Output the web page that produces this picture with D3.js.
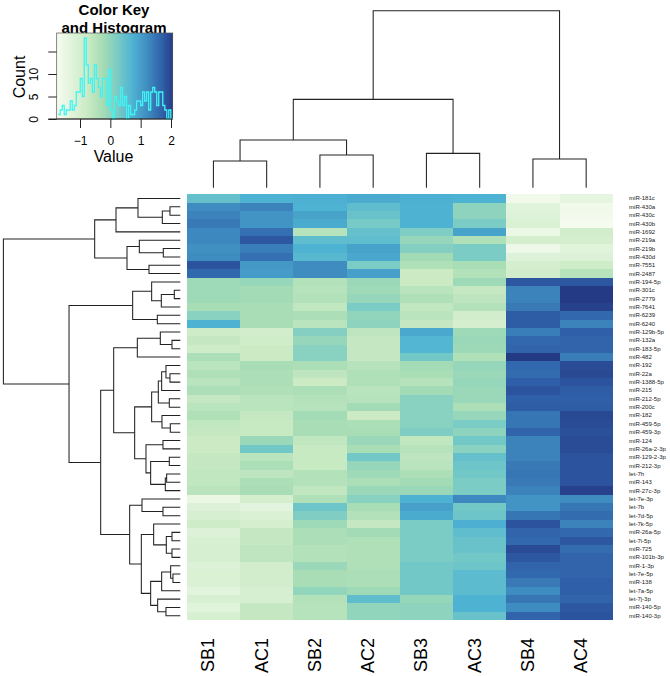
<!DOCTYPE html>
<html><head><meta charset="utf-8">
<script src="https://cdnjs.cloudflare.com/ajax/libs/d3/7.8.5/d3.min.js"></script>
<style>html,body{margin:0;padding:0;background:#fff}svg{display:block}text{font-family:"Liberation Sans",Arial,sans-serif;fill:#000}</style>
</head><body><svg id="c" width="670" height="676"></svg>
<script>
const samples = ["SB1","AC1","SB2","AC2","SB3","AC3","SB4","AC4"];
const rowLabels = ["miR-181c","miR-430a","miR-430c","miR-430b","miR-1692","miR-219a","miR-219b","miR-430d","miR-7551","miR-2487","miR-194-5p","miR-301c","miR-2779","miR-7641","miR-6239","miR-6240","miR-129b-5p","miR-132a","miR-183-5p","miR-482","miR-192","miR-22a","miR-1388-5p","miR-215","miR-212-5p","miR-200c","miR-182","miR-459-5p","miR-459-3p","miR-124","miR-26a-2-3p","miR-129-2-3p","miR-212-3p","let-7h","miR-143","miR-27c-3p","let-7e-3p","let-7b","let-7d-5p","let-7k-5p","miR-26a-5p","let-7i-5p","miR-725","miR-101b-3p","miR-1-3p","let-7e-5p","miR-138","let-7a-5p","let-7j-3p","miR-140-5p","miR-140-3p"];
const SB1 = [0.45,1.2,1.3,1.4,1.25,1.25,1.15,1.2,1.8,1.6,-0.2,-0.2,-0.2,-0.3,0.05,0.7,-0.85,-0.7,-0.85,-0.35,-0.55,-0.4,-0.55,-0.35,-0.7,-0.55,-0.4,-0.65,-0.7,-0.8,-0.8,-0.7,-0.7,-0.65,-0.65,-0.55,-1.5,-1.2,-1.05,-0.85,-1.2,-1.1,-1.05,-1.05,-1.2,-1.15,-1.15,-1.35,-1.1,-1.3,-1.1];
const AC1 = [0.7,1.3,1.1,1.1,1.5,1.77,1.35,1.5,1.05,1.0,-0.1,-0.25,-0.25,-0.3,-0.3,-0.3,-0.95,-0.9,-0.8,-0.8,-0.3,-0.35,-0.35,-0.4,-0.55,-0.55,-0.7,-0.75,-0.75,-0.15,0.3,-0.55,-0.35,-0.6,-0.35,-0.3,-1.0,-1.35,-1.15,-1.0,-0.7,-0.7,-0.6,-0.6,-0.95,-0.95,-0.95,-1.05,-1.05,-0.7,-0.7];
const SB2 = [0.75,0.7,0.9,0.8,-0.5,0.5,0.7,0.6,1.2,1.2,-0.45,-0.5,-0.45,-0.65,-0.35,-0.55,0.1,-0.1,0.05,0.05,-0.35,-0.6,-0.8,-0.35,-0.45,-0.5,-0.25,-0.3,-0.3,-0.65,-0.75,-0.75,-0.75,-0.45,-0.45,-0.65,-0.4,0.35,0.15,-0.2,-0.35,-0.35,-0.45,-0.45,-0.15,-0.3,-0.3,-0.05,-0.45,-0.5,-0.5];
const AC2 = [0.8,0.5,0.4,0.25,0.45,0.5,0.9,0.85,0.2,0.95,-0.15,-0.2,-0.1,0.2,-0.05,0,-0.6,-0.7,-0.7,-0.7,-0.5,-0.4,-0.4,-0.55,-0.5,-0.25,-0.8,-0.35,-0.3,-0.15,-0.3,0.3,-0.1,-0.2,-0.35,-0.15,0.05,-0.3,-0.45,-0.7,-0.25,-0.4,-0.4,-0.4,-0.4,-0.35,-0.35,-0.2,0.5,-0.05,-0.05];
const SB3 = [0.75,0.7,0.7,0.7,0.15,-0.1,0.1,-0.25,-0.4,-0.8,-0.8,-0.55,-0.4,-0.65,-0.55,-0.7,0.85,0.65,0.65,0.3,-0.25,-0.3,-0.5,-0.25,0.05,0.05,0.05,0.05,0.15,-0.65,-0.5,-0.6,-0.55,-0.35,-0.25,-0.15,0.7,0.95,0.8,0.2,0.2,0.2,0.2,0.2,0.3,0.3,0.3,0.3,-0.1,0,0];
const AC3 = [0.7,0,0,0.2,0.9,-0.4,0.2,0.2,-0.3,-0.45,-0.2,-0.7,-0.6,-0.45,-0.95,-1.0,-0.2,-0.15,-0.2,-0.4,-0.1,-0.15,-0.1,-0.15,-0.15,-0.35,-0.1,0.2,0,0.3,0.05,0.45,0.35,0.3,0.2,0.2,1.25,0.3,0.35,0.75,0.5,0.4,0.4,0.3,0.35,0.55,0.55,0.55,0.7,0.7,0.4];
const SB4 = [-1.65,-1.3,-1.25,-1.15,-1.55,-1,-1.6,-1.25,-1,-0.95,1.77,1.3,1.3,1.4,1.72,1.72,1.35,1.6,1.65,2.05,1.6,1.55,1.7,1.8,1.7,1.72,1.45,1.45,1.65,1.3,1.3,1.3,1.4,1.45,1.4,1.3,1.1,1.1,1.45,1.8,1.65,1.6,1.88,1.77,1.65,1.6,1.4,1.2,1.45,1.2,1.65];
const AC4 = [-1.4,-1.65,-1.7,-1.75,-0.95,-1,-1.3,-1.2,-0.85,-0.5,1.77,2.05,2.05,1.98,1.6,1.3,1.7,1.65,1.65,1.35,1.88,1.91,1.8,1.72,1.7,1.72,1.91,1.88,1.84,1.88,1.88,1.8,1.8,1.8,1.8,1.98,1.2,1.45,1.55,1.3,1.6,1.77,1.55,1.65,1.65,1.65,1.7,1.7,1.65,1.77,1.8];
const heatColumns = [SB1,AC1,SB2,AC2,SB3,AC3,SB4,AC4];
const colorStops = [-1.8,-1.3,-0.8,-0.3,0.2,0.7,1.2,1.7,2.05];
const colorRamp = ["#f7fcf0","#e0f3db","#ccebc5","#a8ddb5","#7bccc4","#4eb3d3","#3f8cc0","#2f5fa8","#253a85"];
const histCounts = [1,2,3,1,2,2,4,2,3,6,6,9,5,18,12,8,9,6,12,9,7,5,9,9,3,11,2,0,5,4,3,7,3,5,0,3,1,1,2,4,4,3,6,4,6,2,6,7,6,3,6,6,3,2,0,2,0];
const histStart = -1.72, histEnd = 2.06;
const countTicks = [0,5,10,15], countTickLabels = ["0","5","10"];
const valueTicks = [-1,0,1,2];
// dendrograms: [merge height, left, right]; 0 = leaf
const L = 0;
const colTree = [53.1,[26.5,[14.3,[8,L,L],[9.8,L,L]],[10.3,L,L]],[8.6,L,L]];
const rowTree = [53.1,
 [25.7,
  [19.3,[12.7,L,[5.4,[3.1,L,L],L]],L],
  [16,[12.3,L,[5.1,L,L]],[9.4,L,L]]],
 [33.4,
  [14.3,[8.6,L,[5.7,[1.8,L,L],L]],[6.9,L,L]],
  [23.9,
   [20,
    [12.9,[6,L,[2.5,L,L]],L],
    [13.7,
     [8.6,[6.6,[5.6,[4.3,L,[3.1,L,L]],L],[3.3,L,L]],[5.5,L,[3,L,L]]],
     [10.3,[5.2,L,L],[8.9,[3.3,L,L],[4.5,[4.1,L,L],L]]]]],
   [15.2,
    [11.5,L,[5.2,L,L]],
    [11.7,
     [8,L,[4.2,[2.5,L,L],[2.5,L,L]]],
     [8.9,[5.6,[2.9,L,[2.2,L,L]],L],[6.8,L,[4.3,L,L]]]]]]]];

const svg = d3.select("#c");
const color = d3.scaleLinear().domain(colorStops).range(colorRamp).clamp(true);
const x = d3.scaleBand().domain(samples).range([186.8,612.8]);
const y = d3.scaleBand().domain(rowLabels).range([194.3,620]);

// heat map
const heat = svg.append("g").attr("shape-rendering","crispEdges");
heatColumns.forEach((col,j)=>{
  heat.selectAll(null).data(col).join("rect")
    .attr("x",x(samples[j])).attr("width",x.bandwidth()+0.4)
    .attr("y",(d,i)=>y(rowLabels[i])).attr("height",y.bandwidth()+0.4)
    .attr("fill",d=>color(d));
});

// row labels
svg.append("g").selectAll("text").data(rowLabels).join("text")
  .attr("x",629).attr("y",d=>y(d)+y.bandwidth()/2+2)
  .attr("font-size",6.05).style("fill","#222").text(d=>d);

// column labels
svg.append("g").selectAll("text").data(samples).join("text")
  .attr("transform",d=>`translate(${x(d)+x.bandwidth()/2+1},638) rotate(-90)`)
  .attr("text-anchor","end").attr("font-size",18).text(d=>d);

// dendrograms
function layoutTree(node,counter,leafPos,out){
  if(node===L){const p=leafPos(counter.i++);return {p,h:0};}
  const a=layoutTree(node[1],counter,leafPos,out), b=layoutTree(node[2],counter,leafPos,out);
  out.push({a,b,h:node[0]});
  return {p:(a.p+b.p)/2,h:node[0]};
}
const rowH = d3.scaleLinear().domain([0,53.1]).range([180.3,3.4]);
const colH = d3.scaleLinear().domain([0,53.1]).range([187.7,10.7]);
const rowMerges=[]; layoutTree(rowTree,{i:0},i=>y(rowLabels[i])+y.bandwidth()/2,rowMerges);
const colMerges=[]; layoutTree(colTree,{i:0},i=>x(samples[i])+x.bandwidth()/2,colMerges);
const dendro = svg.append("g").attr("fill","none").attr("stroke","#222").attr("stroke-width",1.05);
dendro.selectAll("path.r").data(rowMerges).join("path").attr("class","r")
  .attr("d",m=>{const p=d3.path();p.moveTo(rowH(m.a.h),m.a.p);p.lineTo(rowH(m.h),m.a.p);p.lineTo(rowH(m.h),m.b.p);p.lineTo(rowH(m.b.h),m.b.p);return p.toString();});
dendro.selectAll("path.c").data(colMerges).join("path").attr("class","c")
  .attr("d",m=>{const p=d3.path();p.moveTo(m.a.p,colH(m.a.h));p.lineTo(m.a.p,colH(m.h));p.lineTo(m.b.p,colH(m.h));p.lineTo(m.b.p,colH(m.b.h));return p.toString();});

// colour key title (drawn under the key, as in the reference)
const keyL=56.7,keyR=172.7,keyT=33,keyB=119;
const kx = d3.scaleLinear().domain([-1,2]).range([80,171]);
const ky = d3.scaleLinear().domain([0,10]).range([119,74]);
const title = svg.append("g").attr("text-anchor","middle").attr("font-weight","bold").attr("font-size",15);
title.append("text").attr("x",114).attr("y",15).text("Color Key");
title.append("text").attr("x",114).attr("y",32.5).text("and Histogram");

// key gradient
const keyDomain=[kx.invert(keyL),kx.invert(keyR)];
const steps=d3.range(keyDomain[0],keyDomain[1],(keyDomain[1]-keyDomain[0])/116);
svg.append("g").attr("shape-rendering","crispEdges").selectAll("rect").data(steps).join("rect")
  .attr("x",d=>kx(d)).attr("width",1.2).attr("y",keyT).attr("height",keyB-keyT).attr("fill",d=>color(d));
svg.append("rect").attr("x",keyL).attr("y",keyT).attr("width",keyR-keyL).attr("height",keyB-keyT)
  .attr("fill","none").attr("stroke","#555").attr("stroke-width",0.7);

// histogram
const histStep=(histEnd-histStart)/histCounts.length;
const histPts=[];
histCounts.forEach((c,i)=>{histPts.push([histStart+i*histStep,c]);});
histPts.push([histEnd,histCounts[histCounts.length-1]]);
svg.append("path").attr("fill","none").attr("stroke","#40f4f4").attr("stroke-width",1.3)
  .attr("d",d3.line().x(d=>kx(d[0])).y(d=>ky(d[1])).curve(d3.curveStepAfter)(histPts));

// axes
const tickFont='"Liberation Sans",Arial,sans-serif';
const xAxis=d3.axisBottom(kx).tickValues(valueTicks).tickSize(9).tickPadding(8).tickFormat(d=>d3.format("d")(d).replace("-","\u2212"));
const gx=svg.append("g").attr("transform",`translate(0,${keyB})`).call(xAxis);
gx.select(".domain").remove();
gx.selectAll("text").attr("font-size",12).attr("font-family",tickFont).attr("y",17).attr("dy","0.75em").style("fill","#000");
gx.selectAll("line").attr("stroke","#222");
const yAxis=d3.axisLeft(ky).tickValues(countTicks).tickSize(8.4).tickPadding(8).tickFormat(d=>countTickLabels[countTicks.indexOf(d)]||"");
const gy=svg.append("g").attr("transform",`translate(${keyL},0)`).call(yAxis);
gy.select(".domain").remove();
gy.selectAll("line").attr("stroke","#222");
gy.selectAll("text").attr("font-size",12).attr("font-family",tickFont).style("fill","#000")
  .attr("x",null).attr("dy",0).attr("text-anchor","middle").attr("y",0)
  .attr("transform","translate(-18.7,0) rotate(-90)");
svg.append("line").attr("x1",48.3).attr("x2",keyR).attr("y1",keyB).attr("y2",keyB).attr("stroke","#222");
svg.append("text").attr("x",113.5).attr("y",162).attr("text-anchor","middle").attr("font-size",16).text("Value");
svg.append("text").attr("transform","translate(25,77) rotate(-90)").attr("text-anchor","middle").attr("font-size",16).text("Count");
</script></body></html>
